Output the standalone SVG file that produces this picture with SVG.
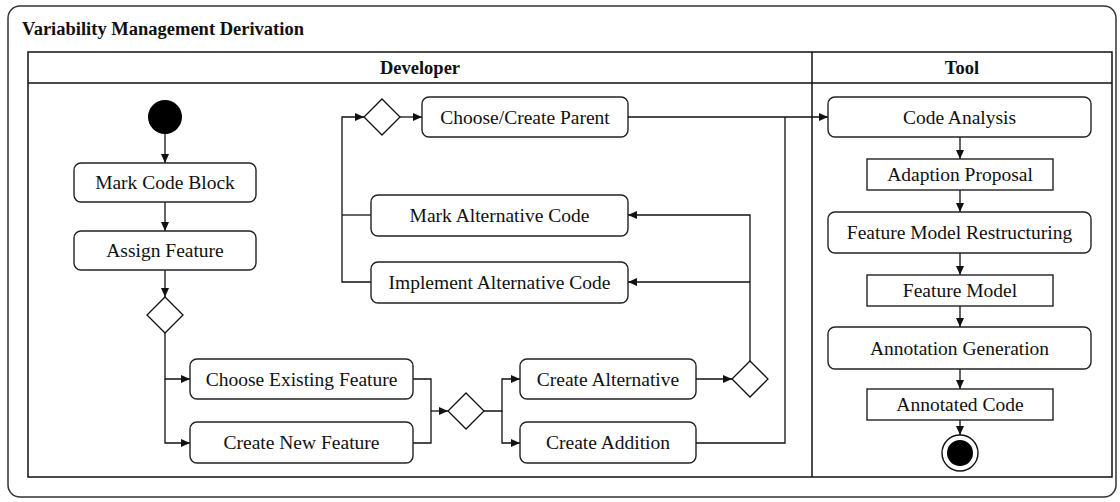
<svg xmlns="http://www.w3.org/2000/svg" width="1120" height="502" viewBox="0 0 1120 502">
<style>
  .frame{fill:#fff;stroke:#333;stroke-width:1.5}
  .lane{fill:none;stroke:#111;stroke-width:1.5}
  .act{fill:#fff;stroke:#222;stroke-width:1.4}
  .obj{fill:#fff;stroke:#222;stroke-width:1.4}
  .dec{fill:#fff;stroke:#111;stroke-width:1.3}
  .t{font-family:"Liberation Serif","Times New Roman",Times,"Nimbus Roman","Nimbus Roman No9 L",FreeSerif,"Noto Serif","DejaVu Serif",Georgia,serif;font-size:19.5px;fill:#111;text-anchor:middle}
  .b{font-family:"Liberation Serif","Times New Roman",Times,"Nimbus Roman","Nimbus Roman No9 L",FreeSerif,"Noto Serif","DejaVu Serif",Georgia,serif;font-size:18.5px;font-weight:bold;fill:#111}
  .c{fill:none;stroke:#111;stroke-width:1.3}
</style>
<defs>
  <marker id="ah" markerUnits="userSpaceOnUse" markerWidth="9" markerHeight="8" refX="9" refY="4" orient="auto">
    <path d="M0,0 L9,4 L0,8 z" fill="#111"/>
  </marker>
</defs>
<rect class="frame" x="8" y="6" width="1108" height="491" rx="12"/>
<text class="b" x="22" y="35">Variability Management Derivation</text>
<g id="lanes">
  <rect class="lane" x="28" y="52" width="1084" height="425"/>
  <line class="lane" x1="28" y1="83" x2="1112" y2="83"/>
  <line class="lane" x1="812" y1="52" x2="812" y2="477"/>
  <text class="b" x="420" y="74" text-anchor="middle">Developer</text>
  <text class="b" x="962" y="74" text-anchor="middle">Tool</text>
</g>
<g id="connectors">
  <path class="c" d="M165,134 V163" marker-end="url(#ah)"/>
  <path class="c" d="M165,202 V231" marker-end="url(#ah)"/>
  <path class="c" d="M165,270 V297" marker-end="url(#ah)"/>
  <path class="c" d="M165,333 V379 H190" marker-end="url(#ah)"/>
  <path class="c" d="M165,379 V443 H190" marker-end="url(#ah)"/>
  <path class="c" d="M413,379 H431 V443 H413"/>
  <path class="c" d="M431,411 H448" marker-end="url(#ah)"/>
  <path class="c" d="M484,411 H502 V379 H520" marker-end="url(#ah)"/>
  <path class="c" d="M502,411 V443 H520" marker-end="url(#ah)"/>
  <path class="c" d="M696,379 H732" marker-end="url(#ah)"/>
  <path class="c" d="M750,361 V215 H628" marker-end="url(#ah)"/>
  <path class="c" d="M750,282 H628" marker-end="url(#ah)"/>
  <path class="c" d="M371,215 H342"/>
  <path class="c" d="M371,282 H342 V117 H364" marker-end="url(#ah)"/>
  <path class="c" d="M400,117 H422" marker-end="url(#ah)"/>
  <path class="c" d="M628,117 H828" marker-end="url(#ah)"/>
  <path class="c" d="M696,443 H785 V117"/>
  <path class="c" d="M960,137 V159" marker-end="url(#ah)"/>
  <path class="c" d="M960,190 V212" marker-end="url(#ah)"/>
  <path class="c" d="M960,253 V275" marker-end="url(#ah)"/>
  <path class="c" d="M960,306 V327" marker-end="url(#ah)"/>
  <path class="c" d="M960,369 V389" marker-end="url(#ah)"/>
  <path class="c" d="M960,420 V435" marker-end="url(#ah)"/>
</g>
<g id="start"><circle cx="165" cy="117" r="17" fill="#000"/></g>
<g id="mark-code-block"><rect class="act" x="74" y="163" width="182" height="39" rx="7"/><text class="t" x="165" y="189">Mark Code Block</text></g>
<g id="assign-feature"><rect class="act" x="74" y="231" width="182" height="39" rx="7"/><text class="t" x="165" y="257">Assign Feature</text></g>
<g id="decision1"><path class="dec" d="M165,297 L183,315 L165,333 L147,315 z"/></g>
<g id="choose-existing"><rect class="act" x="190" y="359" width="223" height="40" rx="7"/><text class="t" x="301.5" y="386">Choose Existing Feature</text></g>
<g id="create-new"><rect class="act" x="190" y="422" width="223" height="41" rx="7"/><text class="t" x="301.5" y="449">Create New Feature</text></g>
<g id="decision2"><path class="dec" d="M466,393 L484,411 L466,429 L448,411 z"/></g>
<g id="create-alternative"><rect class="act" x="520" y="359" width="176" height="40" rx="7"/><text class="t" x="608" y="386">Create Alternative</text></g>
<g id="create-addition"><rect class="act" x="520" y="422" width="176" height="41" rx="7"/><text class="t" x="608" y="449">Create Addition</text></g>
<g id="decision3"><path class="dec" d="M750,361 L768,379 L750,397 L732,379 z"/></g>
<g id="mark-alternative"><rect class="act" x="371" y="195" width="257" height="41" rx="7"/><text class="t" x="499.5" y="222">Mark Alternative Code</text></g>
<g id="implement-alternative"><rect class="act" x="371" y="262" width="257" height="41" rx="7"/><text class="t" x="499.5" y="289">Implement Alternative Code</text></g>
<g id="decision4"><path class="dec" d="M382,99 L400,117 L382,135 L364,117 z"/></g>
<g id="choose-create-parent"><rect class="act" x="422" y="97" width="206" height="40" rx="7"/><text class="t" x="525" y="124">Choose/Create Parent</text></g>
<g id="code-analysis"><rect class="act" x="828" y="97" width="263" height="40" rx="7"/><text class="t" x="959.5" y="124">Code Analysis</text></g>
<g id="adaption-proposal"><rect class="obj" x="867" y="159" width="186" height="31"/><text class="t" x="960" y="181">Adaption Proposal</text></g>
<g id="fm-restructuring"><rect class="act" x="828" y="212" width="263" height="41" rx="7"/><text class="t" x="959.5" y="239">Feature Model Restructuring</text></g>
<g id="feature-model"><rect class="obj" x="867" y="275" width="186" height="31"/><text class="t" x="960" y="297">Feature Model</text></g>
<g id="annotation-generation"><rect class="act" x="828" y="327" width="263" height="42" rx="7"/><text class="t" x="959.5" y="355">Annotation Generation</text></g>
<g id="annotated-code"><rect class="obj" x="867" y="389" width="186" height="31"/><text class="t" x="960" y="411">Annotated Code</text></g>
<g id="final"><circle cx="960" cy="453" r="18" fill="#fff" stroke="#111" stroke-width="1.4"/><circle cx="960" cy="453" r="13" fill="#000"/></g>
</svg>
